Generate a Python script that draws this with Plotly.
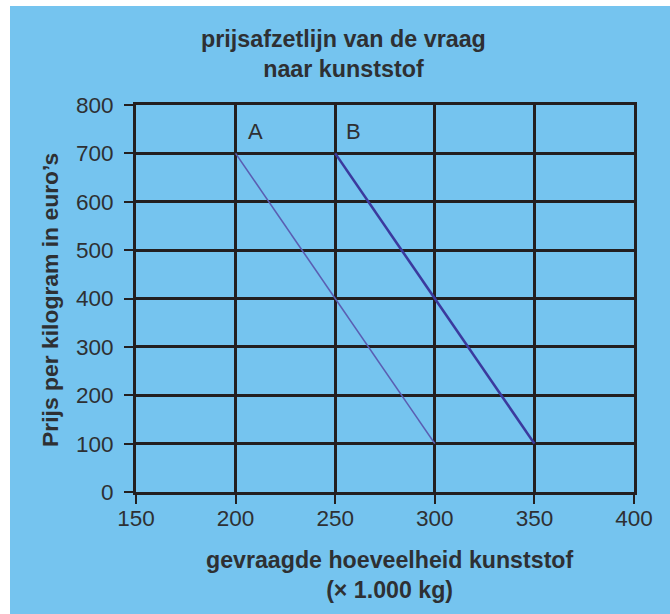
import plotly.graph_objects as go

# ---- data ----
quantity_A = [200, 300]
price_A = [700, 100]
quantity_B = [250, 350]
price_B = [700, 100]
x_ticks = [150, 200, 250, 300, 350, 400]
y_ticks = [0, 100, 200, 300, 400, 500, 600, 700, 800]
label_A = "A"
label_B = "B"
title_text = "prijsafzetlijn van de vraag<br>naar kunststof"
x_title = "gevraagde hoeveelheid kunststof<br>(× 1.000 kg)"
y_title = "Prijs per kilogram in euro’s"

BG = "#75c4ef"
INK = "#231f20"
TXT = "#2e3033"
FONT = "Liberation Sans, Arial, sans-serif"

W, H = 670, 614
L, R, T, B = 136, 36, 105, 122
pw, ph = W - L - R, H - T - B

def px2x(px):
    return (px - L) / pw

def py2y(py):
    return (H - B - py) / ph

fig = go.Figure()
fig.add_trace(go.Scatter(x=quantity_A, y=price_A, mode="lines",
                         line=dict(color="#5a5eb2", width=1.6),
                         showlegend=False, hoverinfo="skip"))
fig.add_trace(go.Scatter(x=quantity_B, y=price_B, mode="lines",
                         line=dict(color="#3b3a9e", width=2.6),
                         showlegend=False, hoverinfo="skip"))

axis_common = dict(
    showgrid=True, gridcolor=INK, gridwidth=3,
    showline=True, linecolor=INK, linewidth=3, mirror=True,
    ticks="outside", ticklen=9, tickwidth=2, tickcolor=INK,
    zeroline=False,
    tickfont=dict(family=FONT, size=22.5, color=TXT),
)

fig.update_xaxes(range=[150, 400], tickvals=x_ticks,
                 ticktext=[str(v) for v in x_ticks],
                 ticklabelstandoff=-5, **axis_common)
fig.update_yaxes(range=[0, 800], tickvals=y_ticks,
                 ticktext=[str(v) for v in y_ticks],
                 ticklabelstandoff=6, **axis_common)

annotations = [
    dict(text=title_text, xref="paper", yref="paper",
         x=px2x(343), y=py2y(54), xanchor="center", yanchor="middle",
         showarrow=False, align="center",
         font=dict(family=FONT, size=23.3, color=TXT, weight="bold")),
    dict(text=x_title, xref="paper", yref="paper",
         x=px2x(390), y=py2y(575), xanchor="center", yanchor="middle",
         showarrow=False, align="center",
         font=dict(family=FONT, size=23.2, color=TXT, weight="bold")),
    dict(text=y_title, xref="paper", yref="paper",
         x=px2x(50), y=py2y(300), xanchor="center", yanchor="middle",
         showarrow=False, textangle=-90,
         font=dict(family=FONT, size=22.9, color=TXT, weight="bold")),
    dict(text=label_A, xref="x", yref="y", x=210, y=745,
         xanchor="center", yanchor="middle", showarrow=False,
         font=dict(family=FONT, size=22, color=TXT)),
    dict(text=label_B, xref="x", yref="y", x=259, y=745,
         xanchor="center", yanchor="middle", showarrow=False,
         font=dict(family=FONT, size=22, color=TXT)),
]

shapes = [
    dict(type="rect", xref="paper", yref="paper", layer="below",
         x0=px2x(-5), x1=px2x(10), y0=py2y(H + 5), y1=py2y(-5),
         fillcolor="white", line=dict(width=0)),
    dict(type="rect", xref="paper", yref="paper", layer="below",
         x0=px2x(-5), x1=px2x(W + 5), y0=py2y(6), y1=py2y(-5),
         fillcolor="white", line=dict(width=0)),
]

fig.update_layout(
    width=W, height=H,
    margin=dict(l=L, r=R, t=T, b=B),
    paper_bgcolor=BG, plot_bgcolor=BG,
    annotations=annotations, shapes=shapes,
    showlegend=False,
)

fig.write_html(
    "out.html",
    config={"displayModeBar": False},
    post_script="document.body.style.margin='0';document.body.style.overflow='hidden';",
)
